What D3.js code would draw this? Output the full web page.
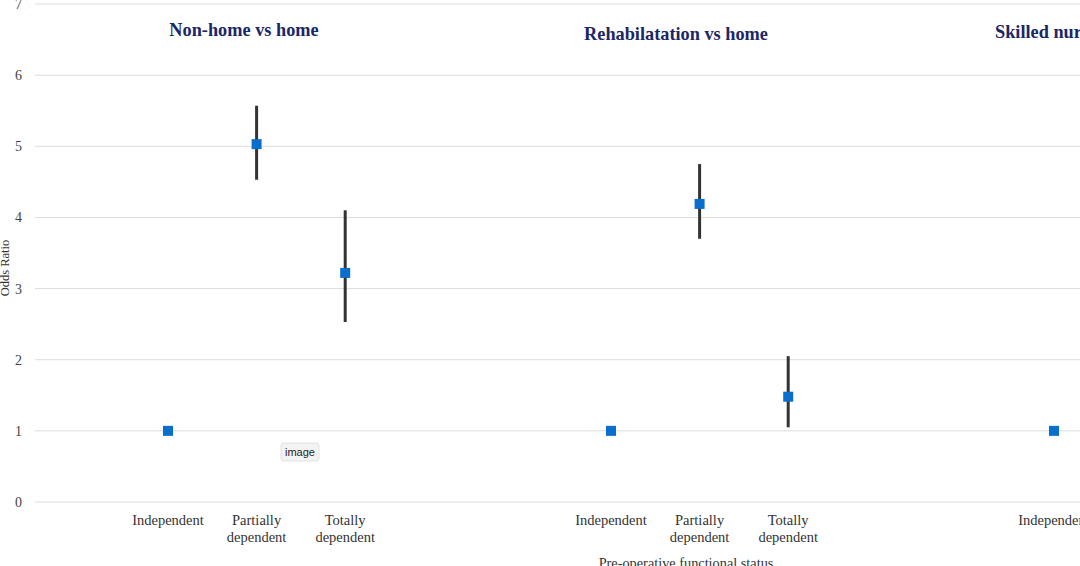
<!DOCTYPE html>
<html>
<head>
<meta charset="utf-8">
<script src="https://cdn.jsdelivr.net/npm/d3@7"></script>
<style>
  body { margin: 0; background: #fff; }
  svg { display: block; }
</style>
</head>
<body>
<svg id="chart" width="1080" height="566"></svg>
<script>
// panels (comparisons) and categories
const panels = ['Non-home vs home', 'Rehabilatation vs home', 'Skilled nursing vs home'];
const categories = ['Independent', 'Partially dependent', 'Totally dependent'];
// odds ratio estimates and 95% CI per panel (null = reference, no CI)
const oddsRatio = [
    [1, 5.03, 3.22],
    [1, 4.19, 1.48],
    [1, null, null]
];
const ciLow = [
    [null, 4.53, 2.53],
    [null, 3.70, 1.05],
    [null, null, null]
];
const ciHigh = [
    [null, 5.57, 4.10],
    [null, 4.75, 2.05],
    [null, null, null]
];
const yTicks = [0, 1, 2, 3, 4, 5, 6, 7];

const svg = d3.select('#chart');
const W = 1080, H = 566;
const plotLeft = 35;
const slotsPerPanel = 5;
const serif = '"Liberation Serif", "Times New Roman", serif';

// slot index -> pixel, panels are 5 slots wide with 3 used
const x = d3.scaleLinear().domain([0, 10]).range([168, 1054]);
const y = d3.scaleLinear().domain([0, 7]).range([502, 4]);

// grid lines
svg.append('g').selectAll('line')
    .data(yTicks)
    .enter().append('line')
    .attr('x1', plotLeft)
    .attr('x2', W)
    .attr('y1', d => y(d))
    .attr('y2', d => y(d))
    .attr('stroke', '#dcdcdc')
    .attr('stroke-width', 1);

// y axis labels
const yAxis = svg.append('g')
    .attr('transform', 'translate(' + 22 + ',0)')
    .call(d3.axisLeft(y).tickValues(yTicks).tickFormat(d3.format('d')).tickSize(0).tickPadding(0));
yAxis.select('.domain').remove();
yAxis.selectAll('text')
    .attr('font-family', serif)
    .attr('font-size', 14)
    .attr('fill', '#444');

svg.append('text')
    .attr('transform', 'translate(' + 9 + ',' + 268 + ') rotate(-90)')
    .attr('text-anchor', 'middle')
    .attr('font-family', serif)
    .attr('font-size', 12.5)
    .attr('fill', '#333')
    .text('Odds Ratio');

// flatten the data
const points = [];
panels.forEach((p, pi) => {
    categories.forEach((c, ci) => {
        points.push({
            panel: p, cat: c,
            slot: pi * slotsPerPanel + ci,
            or: oddsRatio[pi][ci], lo: ciLow[pi][ci], hi: ciHigh[pi][ci]
        });
    });
});

// x category labels
const xl = svg.append('g');
points.forEach(d => {
    const words = d.cat.split(' ');
    const t = xl.append('text')
        .attr('x', x(d.slot))
        .attr('y', 525)
        .attr('text-anchor', 'middle')
        .attr('font-family', serif)
        .attr('font-size', 14.5)
        .attr('fill', '#333');
    words.forEach((w, i) => {
        t.append('tspan')
            .attr('x', x(d.slot))
            .attr('dy', i === 0 ? 0 : 17)
            .text(w);
    });
});

svg.append('text')
    .attr('x', 686)
    .attr('y', 568)
    .attr('text-anchor', 'middle')
    .attr('font-family', serif)
    .attr('font-size', 14.3)
    .attr('fill', '#333')
    .text('Pre-operative functional status');

// panel titles
const titleX = [244, 676, 995];
const titleY = [36, 40, 38];
const titleAnchor = ['middle', 'middle', 'start'];
panels.forEach((p, i) => {
    svg.append('text')
        .attr('x', titleX[i])
        .attr('y', titleY[i])
        .attr('text-anchor', titleAnchor[i])
        .attr('font-family', serif)
        .attr('font-weight', 'bold')
        .attr('font-size', 18.3)
        .attr('fill', '#1b2766')
        .text(p);
});

// error bars
svg.append('g').selectAll('line')
    .data(points.filter(d => d.lo !== null))
    .enter().append('line')
    .attr('x1', d => x(d.slot))
    .attr('x2', d => x(d.slot))
    .attr('y1', d => y(d.lo))
    .attr('y2', d => y(d.hi))
    .attr('stroke', '#333')
    .attr('stroke-width', 3);

// markers
const sz = 10;
svg.append('g').selectAll('rect')
    .data(points.filter(d => d.or !== null))
    .enter().append('rect')
    .attr('x', d => x(d.slot) - sz / 2)
    .attr('y', d => y(d.or) - sz / 2)
    .attr('width', sz)
    .attr('height', sz)
    .attr('fill', '#0a6fcc');

// the little "image" tooltip visible in the picture
const tip = svg.append('g').attr('transform', 'translate(281,443)');
tip.append('rect')
    .attr('x', 0).attr('y', 0)
    .attr('width', 38).attr('height', 18)
    .attr('rx', 3)
    .attr('fill', '#f3f3f3')
    .attr('stroke', '#e2e2e2');
tip.append('text')
    .attr('x', 19).attr('y', 13)
    .attr('text-anchor', 'middle')
    .attr('font-family', '"Helvetica", "Liberation Sans", Arial, sans-serif')
    .attr('font-size', 11)
    .attr('fill', '#222')
    .text('image');
</script>
</body>
</html>
